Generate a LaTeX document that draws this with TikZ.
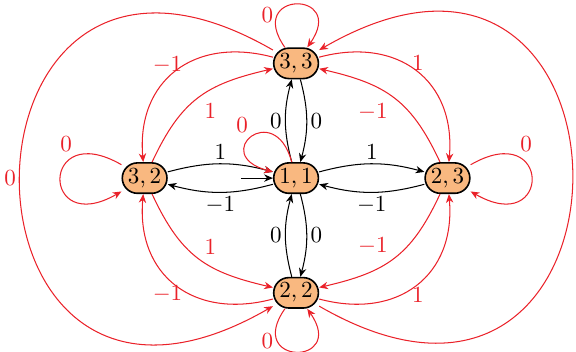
\documentclass[tikz,border=0pt]{standalone}
\usepackage{xcolor}
\usepackage{tikz}
\usetikzlibrary{arrows.meta,positioning}
\definecolor{statefill}{HTML}{F9B880}
\definecolor{edgered}{HTML}{EA2129}

\begin{document}
\begin{tikzpicture}[
 node distance=1.75cm and 2.31cm,on grid,
 statebox/.style={draw=black,fill=statefill,line width=0.7pt,rounded corners=6.6pt,
 minimum width=19.4pt,minimum height=13.2pt,inner sep=1pt},
 lab/.style={inner sep=1.5pt},
 flow/.style={-{Stealth[length=3.8pt,width=3.2pt]},line width=0.45pt},
 redflow/.style={flow,draw=edgered},
 redlab/.style={lab,text=edgered}]
\useasboundingbox (-128.5pt,-75.1pt) rectangle (121.5pt,77.3pt);
\node[statebox] (s11) at (0,0) {$1,1$};
\node[statebox,above=of s11] (s33) {$3,3$};
\node[statebox,below=of s11] (s22) {$2,2$};
\node[statebox,left=of s11] (s32) {$3,2$};
\node[statebox,right=of s11] (s23) {$2,3$};
\coordinate[left=0.84cm of s11] (init);
% black moves through the start state
\draw[flow] (init)--(s11);
\draw[flow] (s32) to[bend left=15] node[above,lab] {$1$} (s11);
\draw[flow] (s11) to[bend left=15] node[below,lab] {$-1$} (s32);
\draw[flow] (s11) to[bend left=15] node[above,lab] {$1$} (s23);
\draw[flow] (s23) to[bend left=15] node[below,lab] {$-1$} (s11);
\draw[flow] (s11) to[bend left=15] node[left,lab] {$0$} (s33);
\draw[flow] (s33) to[bend left=15] node[right,lab] {$0$} (s11);
\draw[flow] (s22) to[bend left=15] node[left,lab] {$0$} (s11);
\draw[flow] (s11) to[bend left=15] node[right,lab] {$0$} (s22);
% red loops
\draw[redflow] (s11) to[out=105,in=165,looseness=8] node[pos=0.5,above left,redlab] {$0$} (s11);
\draw[redflow] (s33) to[out=125,in=55,looseness=8] node[pos=0.25,left,redlab] {$0$} (s33);
\draw[redflow] (s22) to[out=-125,in=-55,looseness=8] node[pos=0.25,left,redlab] {$0$} (s22);
\draw[redflow] (s32) to[out=150,in=210,looseness=9] node[pos=0.25,above left,redlab] {$0$} (s32);
\draw[redflow] (s23) to[out=30,in=-30,looseness=9] node[pos=0.25,above right,redlab] {$0$} (s23);
% red moves between the outer states
\draw[redflow] (s33) to[out=165,in=95,looseness=1.25] node[above left,redlab,inner sep=0pt,xshift=3pt,yshift=-1.3pt] {$-1$} (s32);
\draw[redflow] (s32) to[out=65,in=193,looseness=1.15] node[below right,redlab,inner sep=2.5pt] {$1$} (s33);
\draw[redflow] (s33) to[out=15,in=85,looseness=1.25] node[above right,redlab,inner sep=0pt,xshift=-2pt] {$1$} (s23);
\draw[redflow] (s23) to[out=115,in=-13,looseness=1.15] node[below left,redlab,inner sep=2.5pt] {$-1$} (s33);
\draw[redflow] (s32) to[out=-65,in=167,looseness=1.15] node[above right,redlab,inner sep=2.5pt,yshift=-1pt] {$1$} (s22);
\draw[redflow] (s22) to[out=195,in=265,looseness=1.25] node[below left,redlab,inner sep=0pt,xshift=3pt] {$-1$} (s32);
\draw[redflow] (s23) to[out=-115,in=13,looseness=1.15] node[above left,redlab,inner sep=2.5pt,yshift=-1pt] {$-1$} (s22);
\draw[redflow] (s22) to[out=-15,in=275,looseness=1.25] node[below right,redlab,inner sep=0pt,xshift=-2pt,yshift=-1pt] {$1$} (s23);
\draw[redflow] (s33) to[out=150,in=210,looseness=3.9] node[left,redlab] {$0$} (s22);
\draw[redflow] (s22) to[out=-30,in=30,looseness=3.9] node[right,redlab] {$0$} (s33);
\end{tikzpicture}
\end{document}
